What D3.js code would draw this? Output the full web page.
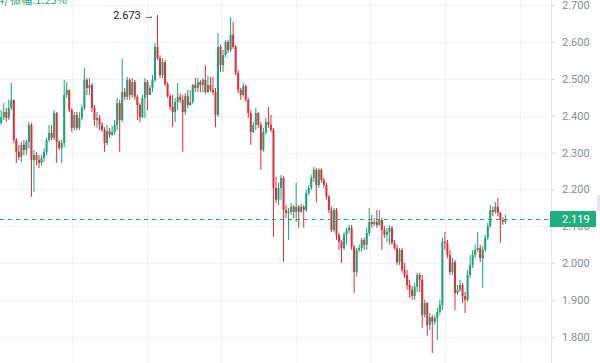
<!DOCTYPE html>
<html><head><meta charset="utf-8">
<script src="https://cdn.jsdelivr.net/npm/d3@7"></script>
<style>html,body{margin:0;padding:0;background:#fff;overflow:hidden}svg{display:block}</style>
</head><body>
<svg id="c" width="600" height="363"></svg>
<script>
const opens = [2.380,2.396,2.410,2.394,2.421,2.443,2.334,2.302,2.288,2.321,2.307,2.329,2.375,2.280,2.293,2.280,2.272,2.285,2.302,2.334,2.353,2.340,2.407,2.329,2.312,2.326,2.456,2.470,2.415,2.367,2.402,2.367,2.394,2.421,2.497,2.475,2.483,2.421,2.388,2.394,2.375,2.361,2.326,2.358,2.348,2.356,2.375,2.434,2.388,2.464,2.451,2.497,2.456,2.491,2.451,2.429,2.396,2.448,2.491,2.456,2.475,2.497,2.586,2.556,2.510,2.545,2.486,2.453,2.424,2.410,2.437,2.451,2.443,2.410,2.453,2.429,2.437,2.483,2.475,2.491,2.483,2.497,2.464,2.483,2.470,2.464,2.402,2.586,2.537,2.564,2.600,2.578,2.619,2.586,2.516,2.470,2.456,2.480,2.443,2.407,2.356,2.375,2.407,2.375,2.307,2.356,2.383,2.375,2.361,2.204,2.172,2.204,2.231,2.144,2.136,2.139,2.153,2.139,2.153,2.139,2.153,2.144,2.190,2.204,2.231,2.253,2.212,2.253,2.226,2.212,2.180,2.144,2.090,2.144,2.077,2.058,2.041,2.077,2.090,2.096,2.044,1.976,2.036,2.041,2.063,2.050,2.082,2.112,2.106,2.112,2.104,2.117,2.090,2.077,2.085,2.096,2.055,2.041,2.003,2.036,1.982,1.968,1.941,1.928,1.911,1.936,1.968,1.955,1.860,1.892,1.833,1.854,1.841,1.852,1.868,1.887,2.058,2.055,2.022,1.976,2.003,1.919,1.928,1.941,1.911,1.901,1.968,1.995,2.022,2.036,2.041,2.014,2.036,2.069,2.101,2.144,2.139,2.153,2.136,2.117,2.112];
const closes = [2.396,2.410,2.394,2.421,2.443,2.334,2.302,2.288,2.321,2.307,2.329,2.375,2.280,2.293,2.280,2.272,2.285,2.302,2.334,2.353,2.340,2.407,2.329,2.312,2.326,2.456,2.470,2.415,2.367,2.402,2.367,2.394,2.421,2.497,2.475,2.483,2.421,2.388,2.394,2.375,2.361,2.326,2.358,2.348,2.356,2.375,2.434,2.388,2.464,2.451,2.497,2.456,2.491,2.451,2.429,2.396,2.448,2.491,2.456,2.475,2.497,2.586,2.556,2.510,2.545,2.486,2.453,2.424,2.410,2.437,2.451,2.443,2.410,2.453,2.429,2.437,2.483,2.475,2.491,2.483,2.497,2.464,2.483,2.470,2.464,2.402,2.586,2.537,2.564,2.600,2.578,2.619,2.586,2.516,2.470,2.456,2.480,2.443,2.407,2.356,2.375,2.407,2.375,2.307,2.356,2.383,2.375,2.361,2.204,2.172,2.204,2.231,2.144,2.136,2.139,2.153,2.139,2.153,2.139,2.153,2.144,2.190,2.204,2.231,2.253,2.212,2.253,2.226,2.212,2.180,2.144,2.090,2.144,2.077,2.058,2.041,2.077,2.090,2.096,2.044,1.976,2.036,2.041,2.063,2.050,2.082,2.112,2.106,2.112,2.104,2.117,2.090,2.077,2.085,2.096,2.055,2.041,2.003,2.036,1.982,1.968,1.941,1.928,1.911,1.936,1.968,1.955,1.860,1.892,1.833,1.854,1.841,1.852,1.868,1.887,2.058,2.055,2.022,1.976,2.003,1.919,1.928,1.941,1.911,1.901,1.968,1.995,2.022,2.036,2.041,2.014,2.036,2.069,2.101,2.144,2.139,2.153,2.136,2.117,2.112,2.119];
const highs = [2.415,2.434,2.421,2.443,2.489,2.443,2.340,2.321,2.329,2.334,2.334,2.383,2.380,2.307,2.302,2.293,2.293,2.312,2.340,2.375,2.375,2.415,2.410,2.334,2.334,2.497,2.491,2.470,2.421,2.410,2.410,2.410,2.429,2.529,2.502,2.502,2.489,2.429,2.410,2.402,2.383,2.369,2.375,2.367,2.372,2.388,2.448,2.443,2.554,2.475,2.505,2.502,2.502,2.497,2.456,2.434,2.456,2.502,2.497,2.483,2.510,2.597,2.673,2.564,2.556,2.551,2.491,2.459,2.456,2.448,2.489,2.461,2.456,2.461,2.470,2.470,2.486,2.502,2.502,2.497,2.502,2.537,2.508,2.505,2.505,2.475,2.624,2.592,2.578,2.605,2.605,2.667,2.654,2.592,2.524,2.475,2.489,2.483,2.448,2.415,2.383,2.421,2.410,2.383,2.367,2.394,2.424,2.402,2.367,2.234,2.218,2.239,2.237,2.158,2.150,2.163,2.158,2.218,2.158,2.161,2.158,2.199,2.212,2.239,2.261,2.258,2.258,2.258,2.231,2.218,2.185,2.153,2.150,2.150,2.082,2.063,2.085,2.096,2.104,2.104,2.050,2.041,2.050,2.069,2.069,2.096,2.150,2.131,2.123,2.144,2.144,2.123,2.101,2.096,2.104,2.101,2.063,2.050,2.041,2.041,2.001,1.982,1.955,1.938,1.947,1.974,1.974,1.968,1.901,1.895,1.865,1.860,1.860,1.879,1.901,2.069,2.085,2.063,2.036,2.014,2.009,1.941,1.955,1.947,1.922,1.982,2.022,2.036,2.050,2.085,2.050,2.047,2.077,2.109,2.158,2.153,2.166,2.177,2.139,2.125,2.131];
const lows = [2.375,2.388,2.383,2.388,2.415,2.326,2.272,2.280,2.274,2.293,2.293,2.312,2.180,2.193,2.266,2.258,2.264,2.274,2.293,2.329,2.334,2.334,2.272,2.307,2.272,2.315,2.448,2.410,2.356,2.361,2.361,2.361,2.388,2.415,2.456,2.456,2.410,2.372,2.367,2.361,2.356,2.302,2.320,2.340,2.345,2.348,2.361,2.302,2.383,2.443,2.443,2.443,2.448,2.443,2.388,2.383,2.394,2.394,2.415,2.456,2.464,2.491,2.551,2.502,2.502,2.480,2.448,2.415,2.369,2.383,2.415,2.434,2.302,2.402,2.421,2.426,2.432,2.464,2.464,2.464,2.464,2.459,2.461,2.464,2.456,2.369,2.396,2.518,2.518,2.559,2.570,2.573,2.581,2.510,2.461,2.443,2.451,2.437,2.394,2.321,2.353,2.361,2.367,2.253,2.302,2.348,2.367,2.356,2.071,2.163,2.158,2.172,2.003,2.123,2.063,2.131,2.123,2.112,2.096,2.136,2.096,2.139,2.185,2.199,2.220,2.166,2.204,2.218,2.204,2.172,2.136,2.085,2.085,2.063,2.036,2.001,2.036,2.050,2.082,2.036,1.919,1.963,2.031,2.031,2.036,2.036,2.074,2.096,2.101,2.096,2.101,2.036,2.069,2.058,2.050,2.050,2.036,1.995,1.995,1.974,1.960,1.928,1.906,1.901,1.901,1.922,1.922,1.825,1.852,1.803,1.819,1.757,1.833,1.792,1.860,1.873,2.036,2.014,1.968,1.968,1.873,1.914,1.922,1.892,1.865,1.895,1.960,1.987,2.014,2.031,2.003,1.933,2.031,2.063,2.096,2.128,2.134,2.128,2.055,2.104,2.106];
const yTicks = [1.8,1.9,2.0,2.1,2.2,2.3,2.4,2.5,2.6,2.7];
const timeGrid = [28.2,57.9,87.3,117,146.4,176.2,205.6];
const lastPrice = 2.119;
const maxHigh = 2.673;
const headerText = "4) 振幅:1.23%";

const svg = d3.select("#c");
const W = 600, H = 363, axisX = 551;
const x = d3.scaleLinear().domain([0, 200]).range([1.2, 505.4]);
const y = d3.scaleLinear().domain([1.8, 2.7]).range([337, 5]);
const green = "#17a477", red = "#e32d3c";
const font = "Roboto, 'Noto Sans', sans-serif";

// grid
const grid = svg.append("g");
grid.selectAll("line.h").data(yTicks).join("line")
  .attr("x1", 0).attr("x2", axisX).attr("y1", d => Math.round(y(d)) + 0.5).attr("y2", d => Math.round(y(d)) + 0.5)
  .attr("stroke", "#f1f3f5").attr("stroke-width", 1);
grid.selectAll("line.v").data(timeGrid).join("line")
  .attr("x1", d => Math.round(x(d)) + 0.5).attr("x2", d => Math.round(x(d)) + 0.5).attr("y1", 0).attr("y2", H)
  .attr("stroke", "#f1f3f5").attr("stroke-width", 1);

// candles
const data = closes.map((c, i) => ({i, o: opens[i], c, h: highs[i], l: lows[i]}));
const g = svg.append("g");
const bw = 2;
g.selectAll("line.w").data(data).join("line")
  .attr("x1", d => x(d.i)).attr("x2", d => x(d.i))
  .attr("y1", d => y(d.h)).attr("y2", d => y(d.l))
  .attr("stroke", d => d.c >= d.o ? green : red).attr("stroke-width", 1);
g.selectAll("rect").data(data).join("rect")
  .attr("x", d => x(d.i) - bw / 2).attr("width", bw)
  .attr("y", d => y(Math.max(d.o, d.c)))
  .attr("height", d => Math.max(1, Math.abs(y(d.o) - y(d.c))))
  .attr("fill", d => d.c >= d.o ? green : red);

// last price dashed line
const ly = Math.round(y(lastPrice)) + 0.5;
svg.append("line").attr("x1", 0).attr("x2", axisX).attr("y1", ly).attr("y2", ly)
  .attr("stroke", "#1fa87a").attr("stroke-width", 1).attr("stroke-dasharray", "4,4");

// axis
const axisG = svg.append("g").attr("transform", `translate(${axisX},0)`);
const axis = d3.axisRight(y).tickValues(yTicks).tickFormat(d3.format(".3f")).tickSize(4).tickPadding(7);
axisG.call(axis);
axisG.select(".domain").attr("stroke", "#e6e8eb").attr("d", `M0.5,0V${H}`);
axisG.selectAll(".tick line").attr("stroke", "#d4d7dc").attr("x1", 1);
axisG.selectAll(".tick text").attr("fill", "#868b93").attr("font-family", font).attr("font-size", 11);

// last price label
svg.append("rect").attr("x", axisX - 1).attr("y", ly - 8.5).attr("width", 46).attr("height", 16).attr("fill", "#1fae7e");
svg.append("text").attr("x", axisX + 11).attr("y", ly + 3.5).text(d3.format(".3f")(lastPrice))
  .attr("fill", "#fff").attr("font-family", font).attr("font-size", 11);
svg.append("rect").attr("x", 597).attr("y", ly - 24.5).attr("width", 3).attr("height", 16).attr("fill", "#e4e6e9");

// max annotation
const maxIdx = highs.indexOf(maxHigh);
svg.append("text").attr("x", x(maxIdx) - 3).attr("y", y(maxHigh) + 4).attr("text-anchor", "end")
  .attr("font-family", font).attr("font-size", 11).attr("fill", "#222")
  .text(d3.format(".3f")(maxHigh) + " →");

// header (cut off at top, as in the reference)
svg.append("text").attr("x", -2).attr("y", 4).attr("font-family", "'Noto Sans CJK SC', sans-serif")
  .attr("font-size", 11).attr("fill", "#2aa57c").text(headerText);
</script>
</body></html>
